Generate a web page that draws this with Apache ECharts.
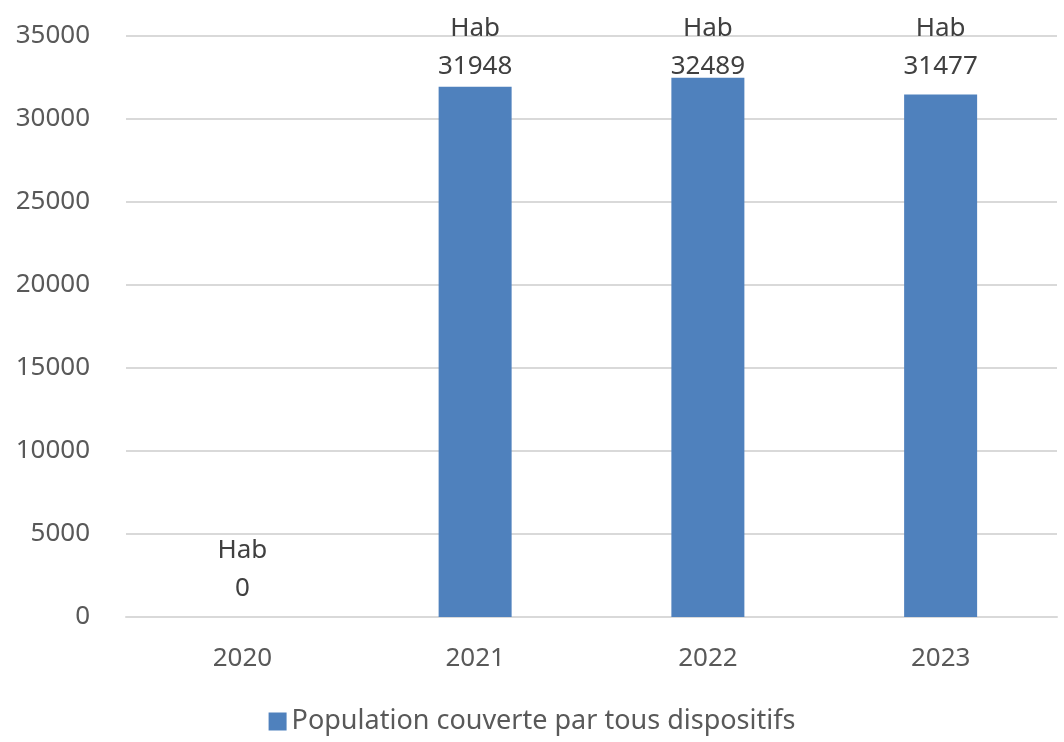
<!DOCTYPE html>
<html>
<head>
<meta charset="utf-8">
<script src="https://cdn.jsdelivr.net/npm/echarts@6/dist/echarts.min.js"></script>
<style>
html,body{margin:0;padding:0;background:#fff;}
#chart{width:1064px;height:742px;}
</style>
</head>
<body>
<div id="chart"></div>
<script>
// données
const years = ['2020', '2021', '2022', '2023']
const population = [0, 31948, 32489, 31477]
const seriesName = 'Population couverte par tous dispositifs'
const labelPrefix = 'Hab'

const chart = echarts.init(document.getElementById('chart'))
const font = '"Noto Sans", "Open Sans", sans-serif'
chart.setOption({
    textStyle: {fontFamily: font},
    animation: false,
    grid: {left: 126, right: 7, top: 36, bottom: 125, containLabel: false},
    legend: {
        bottom: 2,
        left: 'center',
        itemWidth: 18,
        itemHeight: 18,
        itemGap: 6,
        icon: 'rect',
        textStyle: {fontSize: 27, color: '#595959', fontFamily: font},
        data: [seriesName]
    },
    xAxis: {
        type: 'category',
        data: years,
        axisLine: {lineStyle: {color: '#d9d9d9', width: 2}},
        axisTick: {show: false},
        axisLabel: {fontSize: 26, color: '#595959', margin: 29, fontFamily: font}
    },
    yAxis: {
        type: 'value',
        min: 0,
        max: 35000,
        interval: 5000,
        axisLine: {show: false},
        axisTick: {show: false},
        splitLine: {lineStyle: {color: '#d9d9d9', width: 2}},
        axisLabel: {
            fontSize: 26, color: '#595959', margin: 36, fontFamily: font,
            formatter: v => String(v)
        }
    },
    series: [{
        name: seriesName,
        type: 'bar',
        data: population,
        barWidth: 73,
        itemStyle: {color: '#4f81bd'},
        label: {
            show: true,
            position: 'top',
            distance: 9,
            fontSize: 26,
            lineHeight: 38,
            color: '#404040',
            fontFamily: font,
            formatter: p => labelPrefix + '\n' + p.value
        }
    }]
})

// comme dans Excel : les étiquettes trop hautes restent dans la zone du graphique
const labelTopLimit = 10
chart.setOption({
    series: [{
        data: population.map(v => {
            let y = chart.convertToPixel({yAxisIndex: 0}, v)
            let top = y - 9 - 76
            return top < labelTopLimit ? {value: v, label: {offset: [0, labelTopLimit - top]}} : v
        })
    }]
})
</script>
</body>
</html>
